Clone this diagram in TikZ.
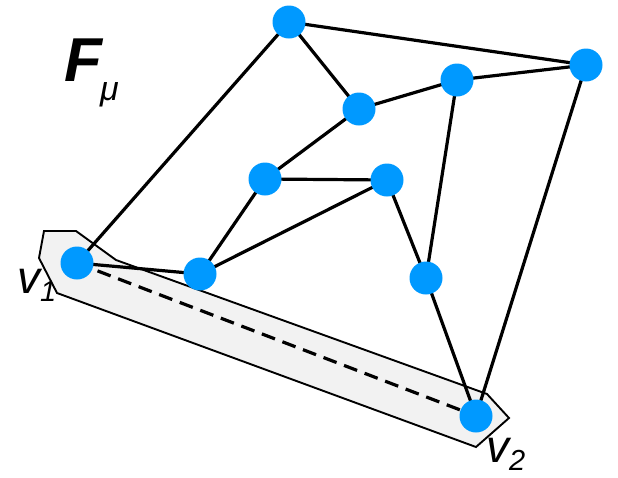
\documentclass[tikz,border=0pt]{standalone}
\usepackage{fontspec}
\setmainfont{Liberation Sans}
\begin{document}
\begin{tikzpicture}[x=1pt,y=-1pt,
  vtx/.style={circle,fill=vblue,draw=none,minimum size=33pt,inner sep=0pt},
  edge/.style={line width=3.2pt},
  band/.style={fill=bandgray,draw=black,line width=1.9pt,line join=miter}]
\definecolor{vblue}{HTML}{0099FF}
\definecolor{bandgray}{HTML}{F2F2F2}
\useasboundingbox (0,0) rectangle (618,477);
% labels
\node[anchor=base west,inner sep=0pt,font=\fontsize{62}{62}\selectfont\bfseries\itshape] (Fl) at (64,81)
  {F\kern-2pt\raisebox{-19pt}{\fontsize{34}{34}\selectfont\mdseries μ}};
\node[anchor=base west,inner sep=0pt,font=\fontsize{46}{46}\selectfont\itshape] (v1) at (17,293) {v\raisebox{-8pt}{\fontsize{29}{29}\selectfont 1}};
\node[anchor=base west,inner sep=0pt,font=\fontsize{46}{46}\selectfont\itshape] (v2) at (486,462) {v\raisebox{-8pt}{\fontsize{29}{29}\selectfont 2}};
% band
\coordinate (p1) at (44,231);
\coordinate (p2) at (76,231);
\coordinate (p3) at (116,260);
\coordinate (p4) at (487,394);
\coordinate (p5) at (509,418);
\coordinate (p6) at (476,447);
\coordinate (p7) at (57,293);
\coordinate (p8) at (39,258);
\draw[band] (p1) -- (p2) -- (p3) -- (p4) -- (p5) -- (p6) -- (p7) -- (p8) -- cycle;
% vertex positions
\coordinate (A) at (289,22);
\coordinate (B) at (586,65);
\coordinate (C) at (457,80);
\coordinate (D) at (359,109);
\coordinate (E) at (265,179);
\coordinate (F) at (387,180);
\coordinate (G) at (77,263);
\coordinate (H) at (200,274);
\coordinate (I) at (426,278);
\coordinate (J) at (476,416);
% edges
\draw[edge] (A) -- (G);
\draw[edge] (A) -- (B);
\draw[edge] (A) -- (D);
\draw[edge] (D) -- (C);
\draw[edge] (C) -- (B);
\draw[edge] (D) -- (E);
\draw[edge] (E) -- (H);
\draw[edge] (E) -- (F);
\draw[edge] (F) -- (H);
\draw[edge] (F) -- (I);
\draw[edge] (C) -- (I);
\draw[edge] (I) -- (J);
\draw[edge] (B) -- (J);
\draw[edge] (G) -- (H);
\draw[edge,dash pattern=on 14pt off 8pt] (G) -- (J);
% vertices on top
\foreach \n in {A,B,C,D,E,F,G,H,I,J}
  \node[vtx] (n\n) at (\n) {};
\end{tikzpicture}
\end{document}
